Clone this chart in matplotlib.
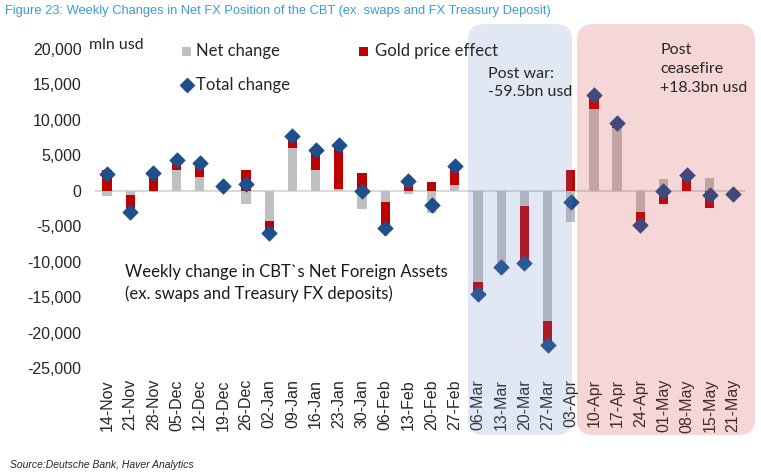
import matplotlib
matplotlib.use("Agg")
import matplotlib.pyplot as plt
from matplotlib.patches import FancyBboxPatch
from matplotlib.transforms import IdentityTransform
from matplotlib.ticker import FuncFormatter
import numpy as np

# weekly data, mln usd
weeks = ["14-Nov", "21-Nov", "28-Nov", "05-Dec", "12-Dec", "19-Dec", "26-Dec",
         "02-Jan", "09-Jan", "16-Jan", "23-Jan", "30-Jan", "06-Feb", "13-Feb",
         "20-Feb", "27-Feb", "06-Mar", "13-Mar", "20-Mar", "27-Mar", "03-Apr",
         "10-Apr", "17-Apr", "24-Apr", "01-May", "08-May", "15-May", "21-May"]
net_change = [-700, -650, -200, 3000, 2000, 700, -1900,
              -4200, 6000, 3000, 300, -2600, -1650, -450,
              -3150, 750, -12900, -10800, -2100, -18300, -4450,
              11600, 8800, -3050, 1650, 0, 1750, -400]
gold_effect = [2900, -2400, 2800, 1300, 1900, 0, 2900,
               -1700, 1700, 2700, 6200, 2500, -3650, 1850,
               1200, 2800, -1600, 0, -8100, -3500, 3000,
               1900, 700, -1800, -1800, 2200, -2450, 0]
total_change = [2300, -3050, 2450, 4400, 3900, 700, 1000,
                -5900, 7700, 5700, 6500, 0, -5300, 1400,
                -1950, 3550, -14500, -10800, -10200, -21800, -1550,
                13500, 9500, -4850, -100, 2200, -650, -400]

W, H, DPI = 761, 476, 100
fig = plt.figure(figsize=(W / DPI, H / DPI), dpi=DPI)
fig.patch.set_facecolor("white")

# axes placed in pixel terms
ax = fig.add_axes([95.4 / W, 1 - 368 / H, (744.6 - 95.4) / W, (368 - 49) / H])
ax.set_facecolor("none")

x = np.arange(len(weeks))
net = np.array(net_change, dtype=float)
gold = np.array(gold_effect, dtype=float)

# excel-style stacking: positives stack up, negatives stack down
gold_bottom = np.where((gold > 0) & (net > 0), net, np.where((gold < 0) & (net < 0), net, 0))

bw = 0.4
ax.bar(x, net, width=bw, color="#c0c0c0", zorder=2)
ax.bar(x, gold, width=bw, bottom=gold_bottom, color="#c00000", zorder=2)
ax.scatter(x, total_change, marker="D", s=62, color="#1f4e8c", zorder=3,
           edgecolors="#1f4e8c", linewidths=0.5)

ax.axhline(0, color="#d9d9d9", lw=1.5, zorder=1)

ax.set_xlim(-0.5, len(weeks) - 0.5)
ax.set_ylim(-25000, 20000)
ax.set_yticks(np.arange(-25000, 20001, 5000))
ax.yaxis.set_major_formatter(FuncFormatter(lambda v, p: f"{int(v):,}"))
ax.set_xticks(x)
ax.set_xticklabels(weeks, rotation=90)
for s in ax.spines.values():
    s.set_visible(False)
ax.tick_params(axis="both", length=0, labelsize=11.5, colors="#262626",
               labelfontfamily="Liberation Sans")
ax.tick_params(axis="y", pad=10)
ax.tick_params(axis="x", pad=8)

# shaded periods (translucent, drawn over the bars like the original)
blue = FancyBboxPatch((468, H - 435), 104, 411,
                      boxstyle="round,pad=0,rounding_size=16",
                      transform=IdentityTransform(), facecolor="#698cc8",
                      edgecolor="none", alpha=0.2, zorder=2)
pink = FancyBboxPatch((577, H - 435), 178, 411,
                      boxstyle="round,pad=0,rounding_size=16",
                      transform=IdentityTransform(), facecolor="#cd3737",
                      edgecolor="none", alpha=0.2, zorder=2)
fig.patches.extend([blue, pink])

txt_font = ["Lato", "DejaVu Sans"]
fig.text(488 / W, 1 - 83 / H, "Post war:\n-59.5bn usd", fontsize=11.5,
         family=txt_font, color="#262626", va="center", ha="left",
         linespacing=1.45, zorder=5)
fig.text(660 / W, 1 - 69 / H, "Post\nceasefire\n+18.3bn usd", fontsize=11.5,
         family=txt_font, color="#262626", va="center", ha="left",
         linespacing=1.45, zorder=5)

ax.text(0.045, 0.265, "Weekly change in CBT`s Net Foreign Assets\n(ex. swaps and Treasury FX deposits)",
        transform=ax.transAxes, fontsize=12, family=txt_font, color="#1a1a1a",
        va="center", ha="left", linespacing=1.4)

# legend, laid out by hand like the excel one
fig.text(89 / W, 1 - 45 / H, "mln usd", fontsize=11.5, family=txt_font,
         color="#262626", va="center", ha="left")
fig.patches.append(plt.Rectangle((182, H - 56), 9, 9, transform=IdentityTransform(),
                                 facecolor="#c0c0c0", edgecolor="none"))
fig.text(196 / W, 1 - 51 / H, "Net change", fontsize=12, family=txt_font,
         color="#262626", va="center", ha="left")
fig.patches.append(plt.Rectangle((359, H - 56), 9, 9, transform=IdentityTransform(),
                                 facecolor="#c00000", edgecolor="none"))
fig.text(375 / W, 1 - 51 / H, "Gold price effect", fontsize=12, family=txt_font,
         color="#262626", va="center", ha="left")
fig.lines.append(plt.Line2D([187], [H - 85], marker="D", markersize=7,
                            color="#1f4e8c", transform=IdentityTransform()))
fig.text(196 / W, 1 - 85 / H, "Total change", fontsize=12, family=txt_font,
         color="#262626", va="center", ha="left")

fig.text(5 / W, 1 - 11 / H,
         "Figure 23: Weekly Changes in Net FX Position of the CBT (ex. swaps and FX Treasury Deposit)",
         fontsize=9.3, family="Liberation Sans", color="#3c9ad6", va="center", ha="left")
fig.text(10 / W, 1 - 465 / H, "Source:Deutsche Bank, Haver Analytics", fontsize=7.5,
         family="Liberation Sans", style="italic", color="#262626", va="center", ha="left")

fig.savefig("out.png", dpi=DPI)
